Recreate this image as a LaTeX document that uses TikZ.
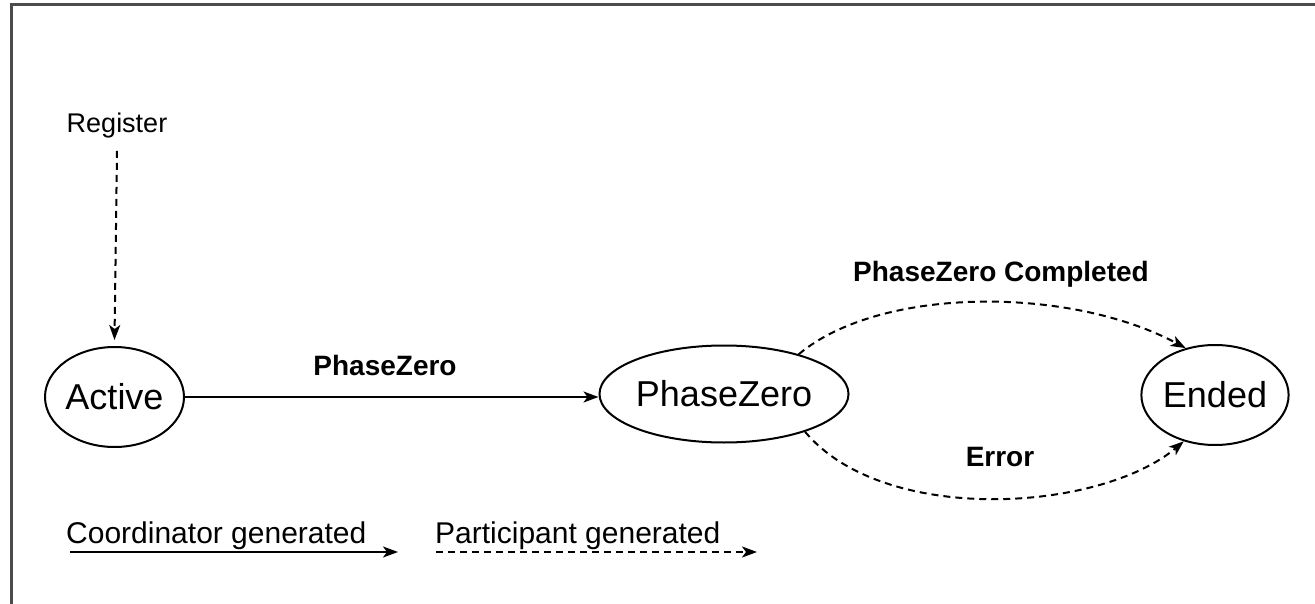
\documentclass[tikz,border=0pt]{standalone}
\usepackage{fontspec}
\setmainfont{Liberation Sans}
\usetikzlibrary{shapes.geometric,arrows.meta}
\begin{document}
\begin{tikzpicture}[x=1pt,y=-1pt,
  state/.style={draw, ellipse, line width=2pt, inner sep=0pt, font=\fontsize{36}{40}\selectfont},
  lbl/.style={inner sep=0pt, anchor=base, font=\fontsize{28}{32}\selectfont\bfseries},
  plain/.style={inner sep=0pt, anchor=base west, font=\fontsize{30}{34}\selectfont},
  tip/.style={-{Stealth[length=15pt,width=11pt,inset=4pt]}},
  coord/.style={tip, line width=2pt},
  part/.style={tip, line width=2pt, dash pattern=on 7pt off 5pt}
]
\useasboundingbox (0,0) rectangle (1315,604);
\fill[white] (0,0) rectangle (1315,604);
\draw[line width=3pt, gray!60!black] (11,604) -- (11,5) -- (1315,5);

\node[state, minimum width=139pt, minimum height=100pt] (A) at (114.5,397) {Active};
\node[state, minimum width=226pt, minimum height=97pt] (P) at (724,394) {PhaseZero};
\node[state, minimum width=136pt, minimum height=100pt] (E) at (1215,395) {Ended};

\node[inner sep=0pt, anchor=base, font=\fontsize{27}{31}\selectfont] (R) at (117,133) {Register};
\node[lbl] (l1) at (385,375) {PhaseZero};
\node[lbl] (l2) at (1001,282) {PhaseZero Completed};
\node[lbl] (l3) at (1000,466) {Error};

\draw[part] ([yshift=-12pt]R.south) -- ([yshift=6pt]A.north);
\draw[coord] (A.east) -- (A.east -| P.west);
\draw[part] (P.28) .. controls (880,286) and (1070,286) .. (E.122);
\draw[part] (P.-25) .. controls (884,526) and (1100,512) .. (E.236);

\node[plain] (t1) at (66,543) {Coordinator generated};
\node[plain] (t2) at (435,543) {Participant generated};
\coordinate (c1) at (70,552);
\coordinate (c2) at (398,552);
\coordinate (d1) at (436,552);
\coordinate (d2) at (757,552);
\draw[coord] (c1) -- (c2);
\draw[part] (d1) -- (d2);
\end{tikzpicture}
\end{document}
